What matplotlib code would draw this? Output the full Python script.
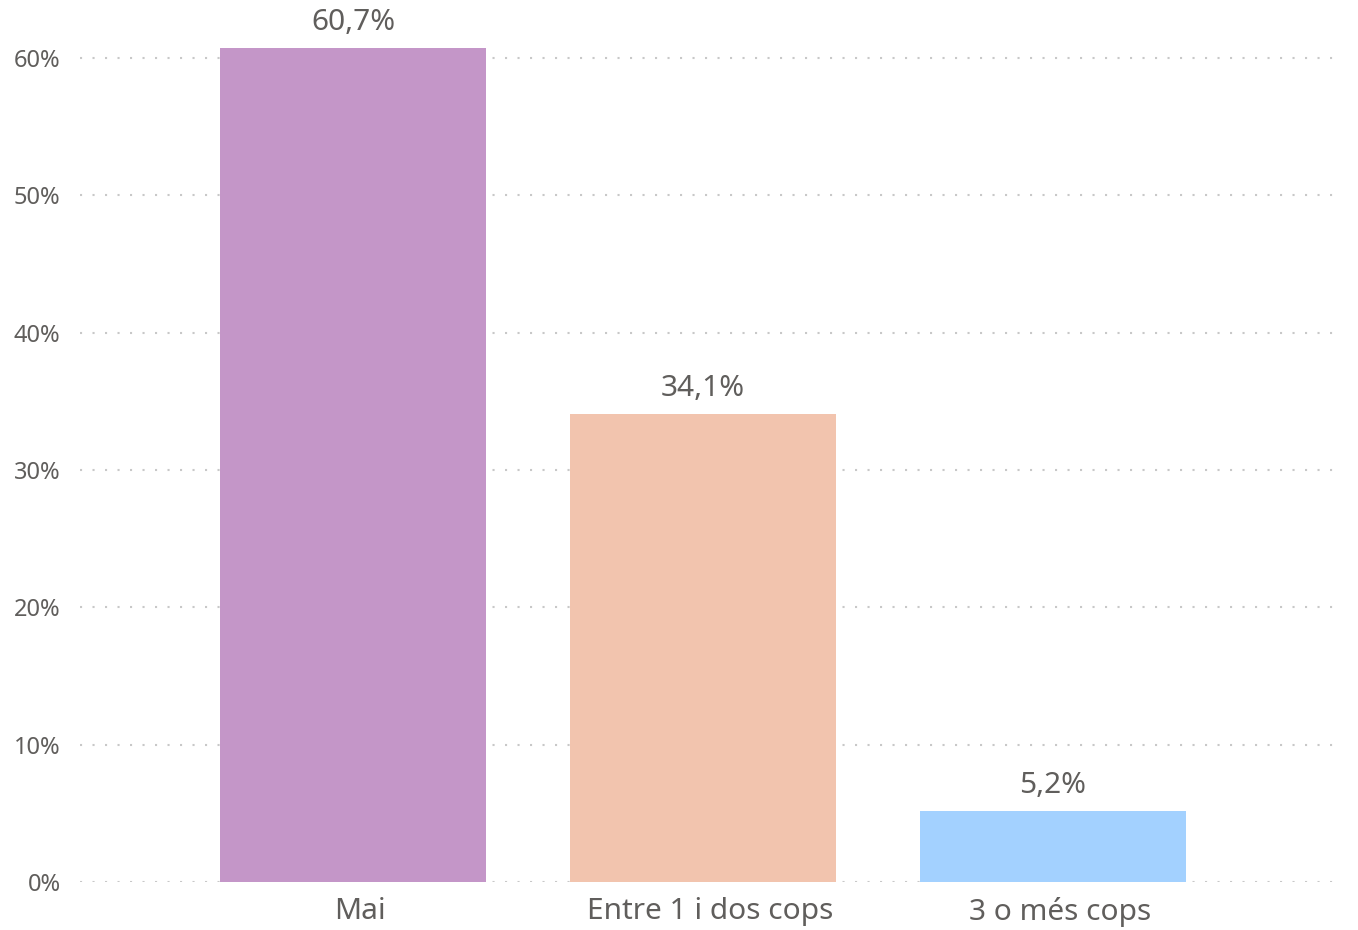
import matplotlib.pyplot as plt
import matplotlib.transforms as mtransforms
from matplotlib.ticker import FuncFormatter

categories = ["Mai", "Entre 1 i dos cops", "3 o més cops"]
values = [60.7, 34.1, 5.2]
colors = ["#C496C8", "#F2C4AE", "#A3D1FF"]
yticks = [0, 10, 20, 30, 40, 50, 60]

plt.rcParams['font.family'] = ['Noto Sans', 'DejaVu Sans']
text_color = "#605E5C"

fig = plt.figure(figsize=(13.58, 9.30), dpi=100)
ax = fig.add_axes([80 / 1358, 48 / 930, 1262 / 1358, 851.5 / 930])

x = list(range(len(categories)))
bars = ax.bar(x, values, width=0.76, color=colors, zorder=3)

# data labels above bars
for b, v in zip(bars, values):
    ax.text(b.get_x() + b.get_width() / 2, v + 0.8, f"{v:.1f}%".replace(".", ","),
            ha="center", va="bottom", fontsize=21.5, color=text_color)

ax.set_xlim(-0.78, 2.826)
ax.set_ylim(0, 62)
ax.set_yticks(yticks)
ax.yaxis.set_major_formatter(FuncFormatter(lambda v, p: f"{v:.0f}%"))
ax.set_xticks(x)
ax.set_xticklabels(categories)

ax.grid(axis="y", linestyle=(0, (1, 5)), linewidth=1.5, color="#C8C8C8", zorder=0)
for s in ax.spines.values():
    s.set_visible(False)
ax.tick_params(axis="y", length=0, labelsize=17, labelcolor=text_color, pad=14)
ax.tick_params(axis="x", length=0, labelsize=21.5, labelcolor=text_color, pad=11)

# category labels sit a few px right of the bar centres in the original
shift = mtransforms.ScaledTranslation(7 / 100, 0, fig.dpi_scale_trans)
for lbl in ax.get_xticklabels():
    lbl.set_transform(lbl.get_transform() + shift)

fig.savefig("out.png", dpi=100)
